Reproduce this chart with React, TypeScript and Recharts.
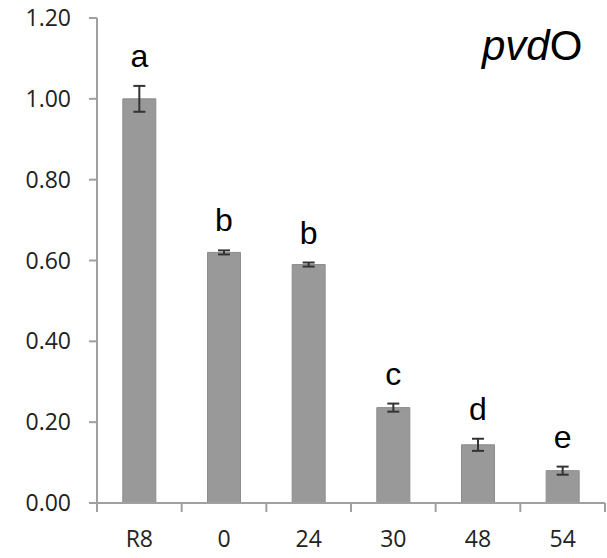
import React from 'react';
import { BarChart, Bar, XAxis, YAxis, ErrorBar, LabelList, Customized } from 'recharts';

const categories = ['R8', '0', '24', '30', '48', '54'];
const values = [1.0, 0.62, 0.59, 0.236, 0.144, 0.08];
const errors = [0.032, 0.005, 0.005, 0.01, 0.015, 0.01];
const letters = ['a', 'b', 'b', 'c', 'd', 'e'];
const yTicks = [0, 0.2, 0.4, 0.6, 0.8, 1.0, 1.2];
const geneName = 'pvd';
const geneSuffix = 'O';

const data = categories.map((c, i) => ({ cat: c, value: values[i], err: errors[i], letter: letters[i] }));

const AXIS_COLOR = '#a0a0a0';
const TICK_SIZE = 8;
const TICK_MARGIN = 20;

const LetterLabel = (props: any) => {
  const { x, width, index } = props;
  const d = data[index];
  const barTopY = props.y;
  const barHeight = props.height;
  const pxPerUnit = barHeight / d.value;
  const errTopY = barTopY - d.err * pxPerUnit;
  return (
    <text x={x + width / 2} y={errTopY - 19} textAnchor="middle" fontFamily="Liberation Sans, Arial, sans-serif" fontSize={32} fill="#000">
      {d.letter}
    </text>
  );
};

const CatTick = (props: any) => {
  const { x, y, payload, width, visibleTicksCount, index } = props;
  const band = width / visibleTicksCount;
  const axisY = y - TICK_SIZE - TICK_MARGIN;
  const left = x - band / 2;
  const right = x + band / 2;
  return (
    <g>
      <line x1={left} y1={axisY} x2={left} y2={axisY + 9} stroke={AXIS_COLOR} strokeWidth={2} />
      {index === visibleTicksCount - 1 && (
        <line x1={right} y1={axisY} x2={right} y2={axisY + 9} stroke={AXIS_COLOR} strokeWidth={2} />
      )}
      <text x={x} y={y} dy="0.71em" textAnchor="middle" fontFamily="Open Sans" fontSize={23} fill="#222">
        {payload.value}
      </text>
    </g>
  );
};

const Title = () => (
  <text x={482} y={60} fontFamily="Liberation Sans, Arial, sans-serif" fontSize={42} fill="#000">
    <tspan fontStyle="italic">{geneName}</tspan>
    <tspan>{geneSuffix}</tspan>
  </text>
);

export default function App() {
  return (
    <div style={{ position: 'absolute', left: 0, top: 0 }}>
      <BarChart width={607} height={558} data={data} margin={{ top: 18, right: 2, bottom: 0, left: 0 }} barCategoryGap="30.5%">
        <XAxis
          dataKey="cat"
          height={55}
          axisLine={{ stroke: AXIS_COLOR, strokeWidth: 2 }}
          tickLine={false}
          tickSize={TICK_SIZE}
          tickMargin={TICK_MARGIN}
          tick={<CatTick />}
          interval={0}
        />
        <YAxis
          domain={[0, 1.2]}
          ticks={yTicks}
          width={97}
          tickFormatter={(v: number) => v.toFixed(2)}
          tickSize={8}
          tickMargin={18}
          stroke={AXIS_COLOR}
          strokeWidth={2}
          tick={{ fontFamily: 'Open Sans', fontSize: 23, fill: '#222' }}
        />
        <Bar dataKey="value" fill="#999999" stroke="#8c8c8c" strokeWidth={1} isAnimationActive={false}>
          <ErrorBar dataKey="err" width={6} stroke="#333" strokeWidth={2} isAnimationActive={false} />
          <LabelList dataKey="letter" content={LetterLabel} />
        </Bar>
        <Customized component={Title} />
      </BarChart>
    </div>
  );
}
